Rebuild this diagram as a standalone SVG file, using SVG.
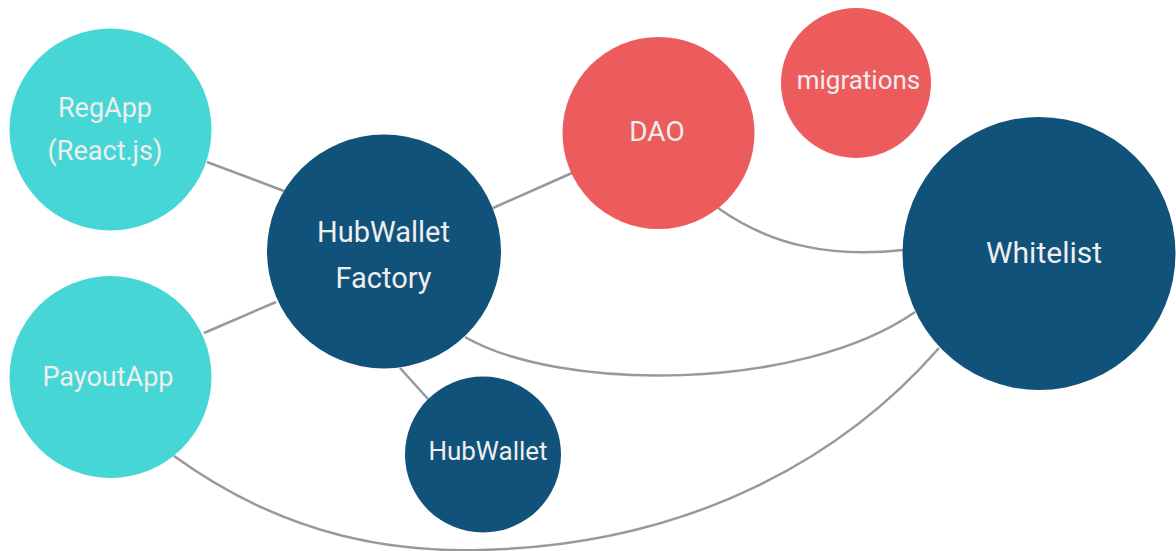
<svg xmlns="http://www.w3.org/2000/svg" width="1176" height="551" viewBox="0 0 1176 551">
<style>
.teal{fill:#47D6D6}
.navy{fill:#10527A}
.red{fill:#ED5C5C}
text{font-family:Roboto,"Liberation Sans",sans-serif;fill:#EEEEEE;text-anchor:middle}
.edge{fill:none;stroke:#999999;stroke-width:2.5}
</style>
<rect width="1176" height="551" fill="#FFFFFF"/>
<g id="connectors">
<line class="edge" x1="207" y1="162" x2="284" y2="191"/>
<line class="edge" x1="204" y1="333" x2="276" y2="302"/>
<line class="edge" x1="493" y1="208" x2="572" y2="173"/>
<line class="edge" x1="400" y1="368" x2="428" y2="399"/>
<path class="edge" d="M718,208 C770,245 830,258 903,250"/>
<path class="edge" d="M465,337 C560,392 800,392 915,312"/>
<path class="edge" d="M174,456 C290,540 400,552 480,550 C700,545 850,450 939,348"/>
</g>
<g id="regapp">
<circle class="teal" cx="110.5" cy="129.5" r="101"/>
<text x="105" y="117" font-size="27">RegApp</text>
<text x="105" y="160" font-size="27">(React.js)</text>
</g>
<g id="payoutapp">
<circle class="teal" cx="110.5" cy="377" r="101"/>
<text x="108" y="386" font-size="27">PayoutApp</text>
</g>
<g id="hubwalletfactory">
<circle class="navy" cx="384" cy="251.5" r="117"/>
<text x="383.5" y="242" font-size="29">HubWallet</text>
<text x="383.5" y="288" font-size="29">Factory</text>
</g>
<g id="hubwallet">
<circle class="navy" cx="483" cy="454.5" r="78"/>
<text x="488" y="460" font-size="26">HubWallet</text>
</g>
<g id="dao">
<circle class="red" cx="658.5" cy="133" r="96"/>
<text x="657" y="141" font-size="28">DAO</text>
</g>
<g id="migrations">
<circle class="red" cx="856" cy="83" r="75"/>
<text x="858.5" y="89" font-size="26">migrations</text>
</g>
<g id="whitelist">
<circle class="navy" cx="1039" cy="253.5" r="136.5"/>
<text x="1044" y="263" font-size="30">Whitelist</text>
</g>
</svg>
